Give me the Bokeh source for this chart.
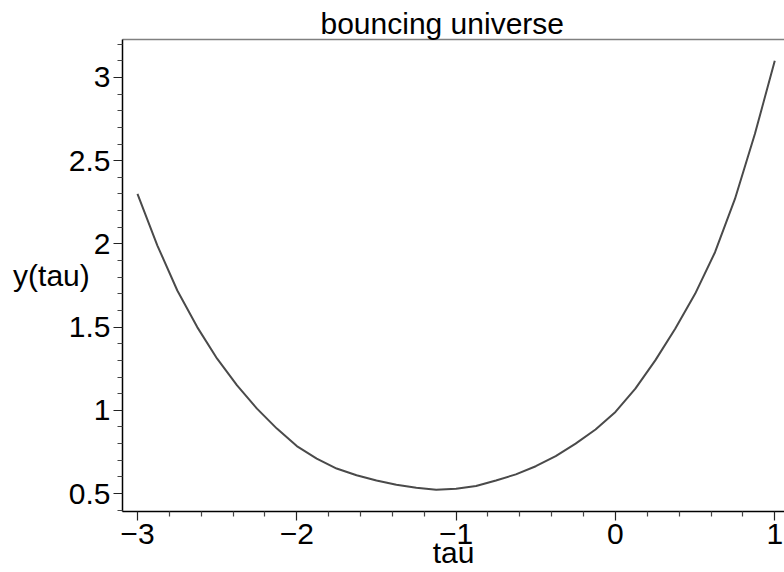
from bokeh.plotting import figure
from bokeh.models import Range1d, FixedTicker, LinearAxis
from bokeh.embed import file_html
from bokeh.resources import INLINE

# ---- data ----
tau_vals = [-3.0, -2.875, -2.75, -2.625, -2.5, -2.375, -2.25, -2.125, -2.0,
            -1.875, -1.75, -1.625, -1.5, -1.375, -1.25, -1.125, -1.0,
            -0.875, -0.75, -0.625, -0.5, -0.375, -0.25, -0.125, 0.0,
            0.125, 0.25, 0.375, 0.5, 0.625, 0.75, 0.875, 1.0]
y_vals = [2.30, 1.99, 1.72, 1.50, 1.31, 1.15, 1.01, 0.89, 0.785,
          0.71, 0.65, 0.61, 0.578, 0.553, 0.535, 0.523, 0.529,
          0.545, 0.578, 0.615, 0.664, 0.725, 0.80, 0.885, 0.99,
          1.13, 1.30, 1.49, 1.70, 1.95, 2.27, 2.66, 3.10]

x_ticks = [-3, -2, -1, 0, 1]
x_tick_labels = ["\u22123", "\u22122", "\u22121", "0", "1"]
y_ticks = [0.5, 1, 1.5, 2, 2.5, 3]
y_tick_labels = ["0.5", "1", "1.5", "2", "2.5", "3"]

title_text = "bouncing universe"
x_label_text = "tau"
y_label_text = "y(tau)"

FONT = "Liberation Sans"
FS = "30px"

p = figure(width=784, height=572, output_backend="svg", toolbar_location=None,
           x_range=Range1d(-3.094, 1.061), y_range=Range1d(0.392, 3.228),
           min_border_left=122, min_border_right=0, min_border_top=39,
           min_border_bottom=61)
p.grid.visible = False
p.outline_line_color = None
p.background_fill_color = "white"
p.border_fill_color = "white"

p.line(tau_vals, y_vals, line_color="#4a4a4a", line_width=2,
       line_join="round")

x_minor = [round(0.2 * k, 1) for k in range(-15, 6) if k % 5]
y_minor = [round(0.1 * k, 1) for k in range(4, 33) if k % 5]

xa = p.xaxis[0]
xa.ticker = FixedTicker(ticks=x_ticks, minor_ticks=x_minor)
xa.major_label_overrides = dict(zip(x_ticks, x_tick_labels))
ya = p.yaxis[0]
ya.ticker = FixedTicker(ticks=y_ticks, minor_ticks=y_minor)
ya.major_label_overrides = dict(zip(y_ticks, y_tick_labels))

for ax in (xa, ya):
    ax.axis_line_color = "black"
    ax.axis_line_width = 1.5
    ax.major_tick_line_color = "#222222"
    ax.minor_tick_line_color = "#444444"
    ax.major_tick_line_width = 1.2
    ax.minor_tick_line_width = 1.2
    ax.major_tick_in = 0
    ax.major_tick_out = 9
    ax.minor_tick_in = 0
    ax.minor_tick_out = 5
    ax.major_label_text_font = FONT
    ax.major_label_text_font_size = FS
    ax.major_label_text_color = "black"
    ax.major_label_standoff = 3
    ax.axis_label_text_font = FONT
    ax.axis_label_text_font_size = FS
    ax.axis_label_text_font_style = "normal"
    ax.axis_label_text_color = "black"

xa.axis_label = x_label_text
xa.axis_label_standoff = -11
ya.axis_label = y_label_text
ya.axis_label_orientation = "horizontal"
ya.axis_label_standoff = -24

top = LinearAxis(ticker=FixedTicker(ticks=[]), axis_line_color="#808080",
                 axis_line_width=1.5, major_tick_line_color=None,
                 minor_tick_line_color=None, major_tick_out=0, minor_tick_out=0,
                 major_label_standoff=0)
p.add_layout(top, "above")

p.title.text = title_text
p.title.text_font = FONT
p.title.text_font_size = FS
p.title.text_font_style = "normal"
p.title.text_color = "black"
p.title.align = "left"
p.title.offset = 198
p.title.standoff = 0

open("out.html", "w").write(file_html(p, INLINE))
